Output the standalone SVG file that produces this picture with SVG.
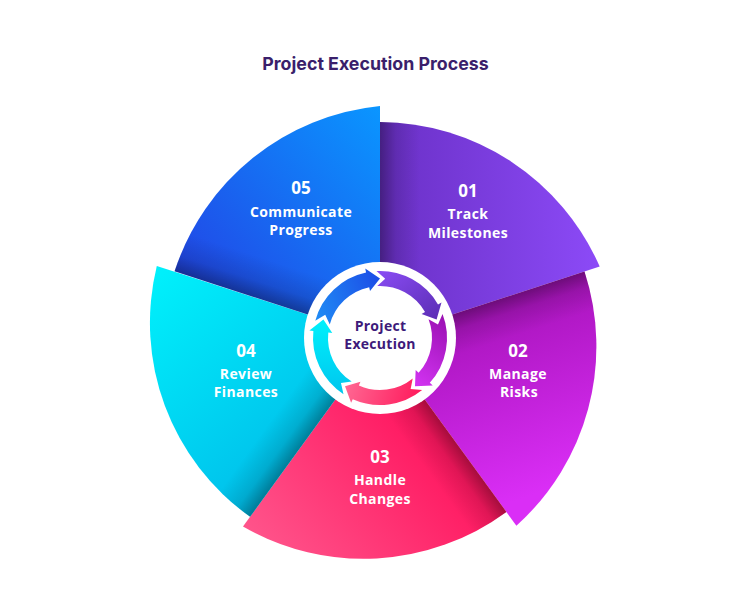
<svg xmlns="http://www.w3.org/2000/svg" width="750" height="600" viewBox="0 0 750 600">
<defs>
<linearGradient id="g1" x1="0" y1="0" x2="1" y2="0"><stop offset="0" stop-color="#6a30c6"/><stop offset="1" stop-color="#8c4af7"/></linearGradient>
<linearGradient id="g2" x1="0" y1="0" x2="0.3" y2="1"><stop offset="0" stop-color="#960aa6"/><stop offset="1" stop-color="#da2ef6"/></linearGradient>
<linearGradient id="g3" x1="0" y1="1" x2="1" y2="0.3"><stop offset="0" stop-color="#ff5a8f"/><stop offset="1" stop-color="#ff0050"/></linearGradient>
<linearGradient id="g4" x1="0" y1="0" x2="0.8" y2="1"><stop offset="0" stop-color="#00f2fc"/><stop offset="1" stop-color="#00b2e6"/></linearGradient>
<linearGradient id="g5" x1="1" y1="0" x2="0" y2="1"><stop offset="0" stop-color="#0a96ff"/><stop offset="1" stop-color="#2638e2"/></linearGradient>
<linearGradient id="s1" gradientUnits="userSpaceOnUse" x1="380" y1="338" x2="420" y2="338"><stop offset="0" stop-color="#000" stop-opacity="0.35"/><stop offset="0.4" stop-color="#000" stop-opacity="0.12"/><stop offset="1" stop-color="#000" stop-opacity="0"/></linearGradient>
<linearGradient id="s2" gradientUnits="userSpaceOnUse" x1="380" y1="338" x2="392.4" y2="376"><stop offset="0" stop-color="#000" stop-opacity="0.35"/><stop offset="0.4" stop-color="#000" stop-opacity="0.12"/><stop offset="1" stop-color="#000" stop-opacity="0"/></linearGradient>
<linearGradient id="s3" gradientUnits="userSpaceOnUse" x1="380" y1="338" x2="347.6" y2="361.5"><stop offset="0" stop-color="#000" stop-opacity="0.35"/><stop offset="0.4" stop-color="#000" stop-opacity="0.12"/><stop offset="1" stop-color="#000" stop-opacity="0"/></linearGradient>
<linearGradient id="s4" gradientUnits="userSpaceOnUse" x1="380" y1="338" x2="347.6" y2="314.5"><stop offset="0" stop-color="#000" stop-opacity="0.35"/><stop offset="0.4" stop-color="#000" stop-opacity="0.12"/><stop offset="1" stop-color="#000" stop-opacity="0"/></linearGradient>
<linearGradient id="s5" gradientUnits="userSpaceOnUse" x1="380" y1="338" x2="392.4" y2="300"><stop offset="0" stop-color="#000" stop-opacity="0.35"/><stop offset="0.4" stop-color="#000" stop-opacity="0.12"/><stop offset="1" stop-color="#000" stop-opacity="0"/></linearGradient>
<linearGradient id="a1" x1="0" y1="0" x2="1" y2="1"><stop offset="0" stop-color="#8a4cf4"/><stop offset="1" stop-color="#5a2db3"/></linearGradient>
<linearGradient id="a2" x1="0" y1="0" x2="1" y2="1"><stop offset="0" stop-color="#9a10b2"/><stop offset="1" stop-color="#d535f5"/></linearGradient>
<linearGradient id="a3" x1="0" y1="0" x2="1" y2="1"><stop offset="0" stop-color="#ff1a5c"/><stop offset="1" stop-color="#ff6b95"/></linearGradient>
<linearGradient id="a4" x1="0" y1="0" x2="1" y2="1"><stop offset="0" stop-color="#00c6ee"/><stop offset="1" stop-color="#00f2fc"/></linearGradient>
<linearGradient id="a5" x1="0" y1="0" x2="1" y2="1"><stop offset="0" stop-color="#1f8cf5"/><stop offset="1" stop-color="#1c4ae6"/></linearGradient>
<path id="arrow" d="M376.50,271.09 A67,67 0 0 1 438.02,304.5 L441.49,302.5 L436.59,319.61 L421.57,314 L425.03,312 A52,52 0 0 0 377.28,286.07 L385.19,278.73 Z"/>
</defs>
<style>
.num{font-family:"Open Sans","Liberation Sans",sans-serif;font-weight:700;font-size:17px;fill:#fff;text-anchor:middle}
.lbl{font-family:"Open Sans","Liberation Sans",sans-serif;font-weight:700;font-size:14px;fill:#fff;text-anchor:middle;letter-spacing:0.4px}
.ctr{font-family:"Open Sans","Liberation Sans",sans-serif;font-weight:700;font-size:14px;fill:#3d1a7a;text-anchor:middle;letter-spacing:0.3px}
.title{font-family:Inter,"Liberation Sans",sans-serif;font-weight:700;font-size:17.8px;fill:#3a1f6b;text-anchor:middle}
</style>
<rect width="750" height="600" fill="#fff"/>
<text class="title" x="375.5" y="70">Project Execution Process</text>
<g id="node-01">
<path d="M380,338 L380,122 A241,241 0 0 1 599.7,266.6 Z" fill="url(#g1)"/>
<path d="M380,338 L380,122 A241,241 0 0 1 599.7,266.6 Z" fill="url(#s1)"/>
<text class="num" x="468" y="197">01</text>
<text class="lbl" x="468" y="219">Track</text>
<text class="lbl" x="468" y="238">Milestones</text>
</g>
<g id="node-02">
<path d="M380,338 L584.5,271.6 A241,241 0 0 1 516.4,525.7 Z" fill="url(#g2)"/>
<path d="M380,338 L584.5,271.6 A241,241 0 0 1 516.4,525.7 Z" fill="url(#s2)"/>
<text class="num" x="518" y="357">02</text>
<text class="lbl" x="518" y="379">Manage</text>
<text class="lbl" x="519" y="397">Risks</text>
</g>
<g id="node-03">
<path d="M380,338 L506.4,511.9 A241,241 0 0 1 243,526.5 Z" fill="url(#g3)"/>
<path d="M380,338 L506.4,511.9 A241,241 0 0 1 243,526.5 Z" fill="url(#s3)"/>
<text class="num" x="380" y="463">03</text>
<text class="lbl" x="380" y="485">Handle</text>
<text class="lbl" x="380" y="504">Changes</text>
</g>
<g id="node-04">
<path d="M380,338 L250.1,516.8 A238,238 0 0 1 156.8,266 Z" fill="url(#g4)"/>
<path d="M380,338 L250.1,516.8 A238,238 0 0 1 156.8,266 Z" fill="url(#s4)"/>
<text class="num" x="246" y="357">04</text>
<text class="lbl" x="246" y="379">Review</text>
<text class="lbl" x="246" y="397">Finances</text>
</g>
<g id="node-05">
<path d="M380,338 L174.6,271.3 A241,241 0 0 1 380,106 Z" fill="url(#g5)"/>
<path d="M380,338 L174.6,271.3 A241,241 0 0 1 380,106 Z" fill="url(#s5)"/>
<text class="num" x="301" y="194">05</text>
<text class="lbl" x="301" y="217">Communicate</text>
<text class="lbl" x="301" y="235">Progress</text>
</g>
<g id="node-center">
<circle cx="380" cy="338" r="76" fill="#fff"/>
<text class="ctr" x="380.5" y="331">Project</text>
<text class="ctr" x="380" y="349">Execution</text>
</g>
<g id="connectors">
<use href="#arrow" fill="url(#a1)"/>
<use href="#arrow" fill="url(#a2)" transform="rotate(72 380 338)"/>
<use href="#arrow" fill="url(#a3)" transform="rotate(144 380 338)"/>
<use href="#arrow" fill="url(#a4)" transform="rotate(216 380 338)"/>
<use href="#arrow" fill="url(#a5)" transform="rotate(288 380 338)"/>
</g>
</svg>
